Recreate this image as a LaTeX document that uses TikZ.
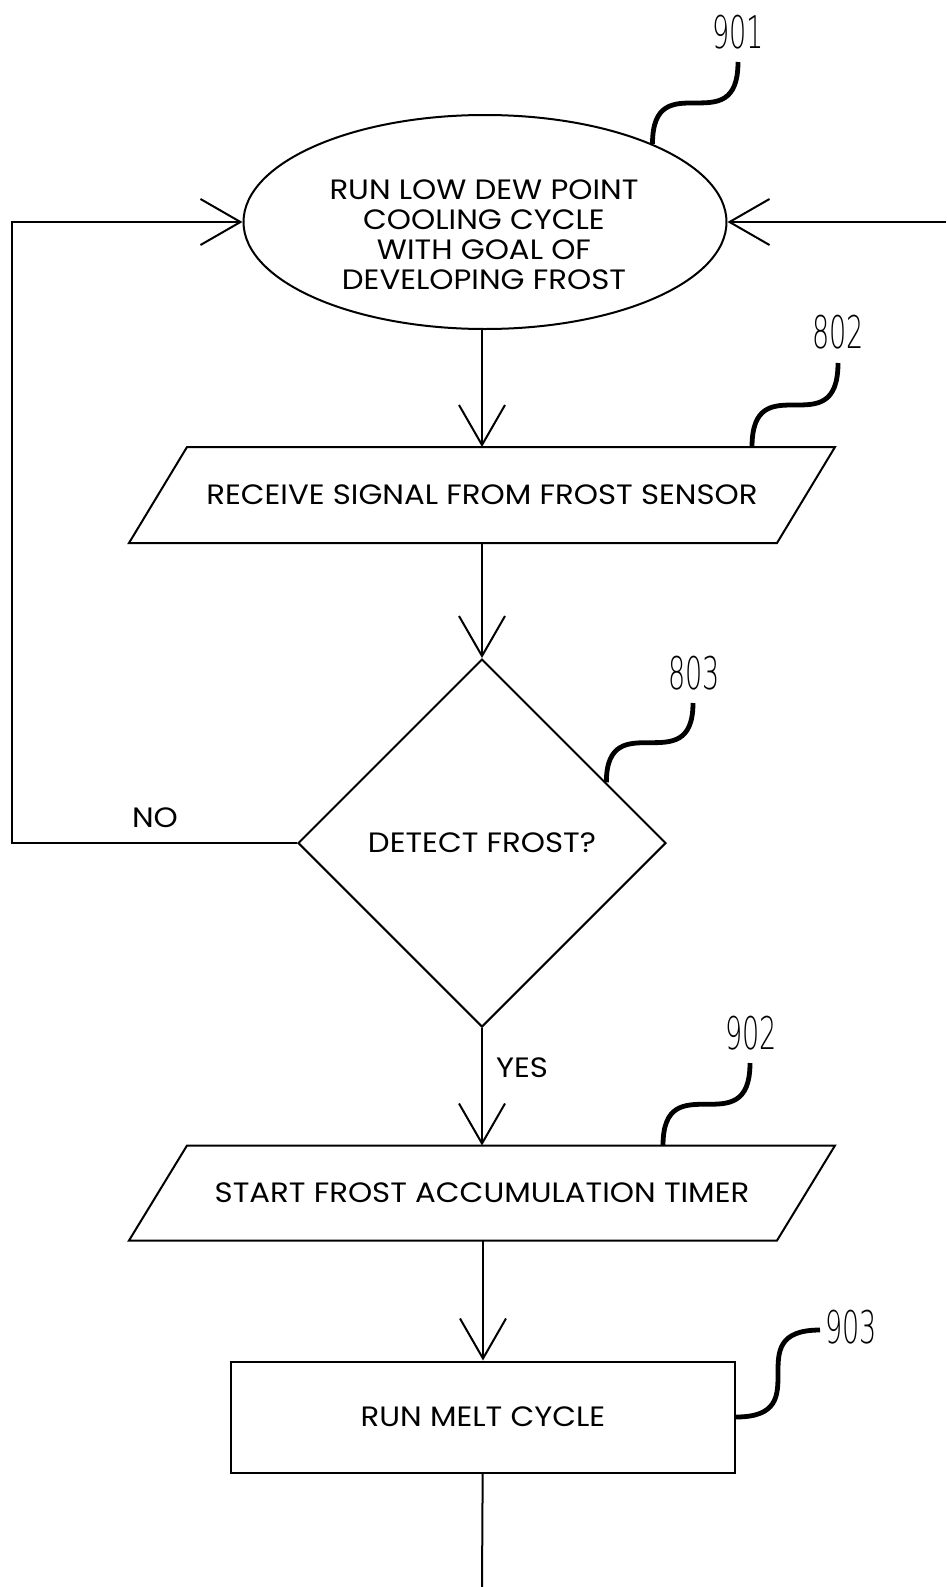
\documentclass[tikz,border=0pt]{standalone}
\usepackage{fontspec}
\setmainfont{Poppins}[FakeStretch=1.1]
\newfontfamily\numfont[FakeStretch=0.6]{DejaVu Sans ExtraLight}
\usetikzlibrary{shapes.geometric,arrows.meta}

% outline of a slanted input/output box round a plain node
\newcommand\slantbox[1]{%
  \draw ([xshift=29pt]#1.north west) -- ([xshift=29pt]#1.north east)
    -- ([xshift=-29pt]#1.south east) -- ([xshift=-29pt]#1.south west) -- cycle;}

\begin{document}
\begin{tikzpicture}[x=1pt,y=-1pt,line width=2pt,
    lbl/.style={font=\fontsize{28}{30}\selectfont},
    flow/.style={-{Straight Barb[length=40pt,width=46pt,line width=2pt]}},
    lead/.style={line width=4.8pt},
    refnum/.style={font=\numfont\fontsize{45}{45}\selectfont,inner sep=0pt},
    iobox/.style={rectangle,minimum width=648pt,minimum height=96pt,
      inner sep=0pt,outer sep=0pt,lbl}]
      \useasboundingbox (0,0) rectangle (946,1587);

      \node[ellipse,draw,minimum width=483pt,minimum height=214pt,inner sep=0pt] (cool) at (485,222) {};
      \node[lbl,align=center] (cooltxt) at (484,235)
        {RUN LOW DEW POINT\\COOLING CYCLE\\WITH GOAL OF\\DEVELOPING FROST};
      \node[iobox] (recv) at (482,495) {RECEIVE SIGNAL FROM FROST SENSOR};
      \slantbox{recv}
      \node[diamond,draw,minimum width=368pt,minimum height=368pt,inner sep=0pt,lbl]
        (frost) at (482,843) {DETECT FROST?};
      \node[iobox,minimum height=95pt] (start) at (482,1193) {START FROST ACCUMULATION TIMER};
      \slantbox{start}
      \node[rectangle,draw,minimum width=504pt,minimum height=111pt,lbl] (melt) at (483,1417)
        {RUN MELT CYCLE};

      \node[lbl] (no) at (155,818) {NO};
      \node[lbl] (yes) at (522,1068) {YES};

      \node[refnum] (n901) at (738,32) {901};
      \node[refnum] (n802) at (838,332) {802};
      \node[refnum] (n803) at (694,673) {803};
      \node[refnum] (n902) at (751,1033) {902};
      \node[refnum] (n903) at (851,1327) {903};

      \coordinate (back) at (12,222);
      \coordinate (feed) at (946,222);
      \coordinate (exit) at (482,1587);

      \draw[flow] (cool.south -| recv.north) -- (recv.north);
      \draw[flow] (recv) -- (frost);
      \draw[flow] (frost) -- (start);
      \draw[flow] (start.south) -- (start.south -| melt.north) -- (melt.north);
      \draw (melt) -- (exit);
      \draw[flow] (frost.west) -- (frost.west -| back) |- (cool.west);
      \draw[flow] (feed) -- (cool.east);

      \coordinate (s901) at (738,62);
      \coordinate (s802) at (838,363);
      \coordinate (s803) at (693,703);
      \coordinate (s902) at (750,1063);
      \coordinate (s903) at (820,1330);
      \coordinate (e901) at (cool.25);
      \coordinate (e802) at ([xshift=270pt]recv.north);
      \coordinate (e803) at (frost.26.4);
      \coordinate (e902) at ([xshift=181pt]start.north);

      \draw[lead] (s901) .. controls (s901 |- e901) and (e901 |- s901) .. (e901);
      \draw[lead] (s802) .. controls (s802 |- e802) and (e802 |- s802) .. (e802);
      \draw[lead] (s803) .. controls (s803 |- e803) and (e803 |- s803) .. (e803);
      \draw[lead] (s902) .. controls (s902 |- e902) and (e902 |- s902) .. (e902);
      \draw[lead] (s903) .. controls (melt.east |- s903) and (s903 |- melt.east) .. (melt.east);
\end{tikzpicture}
\end{document}
